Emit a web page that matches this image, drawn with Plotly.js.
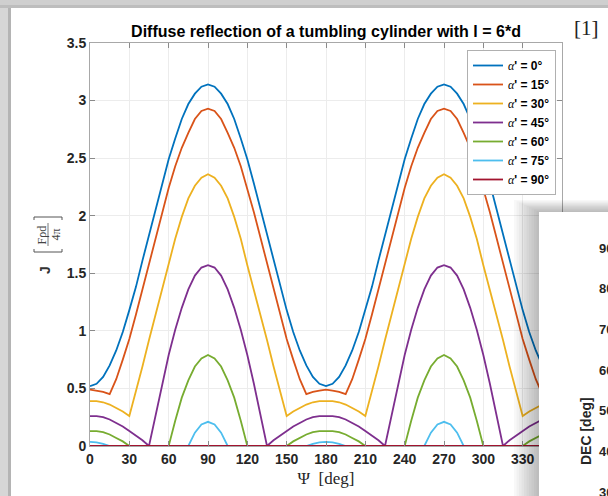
<!DOCTYPE html>
<html>
<head>
<meta charset="utf-8">
<script src="https://cdn.plot.ly/plotly-3.0.1.min.js"></script>
<style>
html,body{margin:0;padding:0;background:#ffffff;}
#chart{width:608px;height:496px;}
</style>
</head>
<body>
<div id="chart"></div>
<script>
// ---- data ----
const psi = [0,5,10,15,20,25,30,35,40,45,50,55,60,65,70,75,80,85,90,
  95,100,105,110,115,120,125,130,135,140,145,150,155,160,165,170,175,180,
  185,190,195,200,205,210,215,220,225,230,235,240,245,250,255,260,265,270,
  275,280,285,290,295,300,305,310,315,320,325,330,335,340,345,350,355,360];

const alpha0 = [0.52,0.54,0.60,0.70,0.83,0.99,1.18,1.38,1.61,1.83,2.06,2.28,2.49,2.67,2.84,2.97,3.06,3.12,3.14,
  3.12,3.06,2.97,2.84,2.67,2.49,2.28,2.06,1.83,1.61,1.38,1.18,0.99,0.83,0.70,0.60,0.54,0.52,
  0.54,0.60,0.70,0.83,0.99,1.18,1.38,1.61,1.83,2.06,2.28,2.49,2.67,2.84,2.97,3.06,3.12,3.14,
  3.12,3.06,2.97,2.84,2.67,2.49,2.28,2.06,1.83,1.61,1.38,1.18,0.99,0.83,0.70,0.60,0.54,0.52];

const alpha15 = [0.49,0.48,0.47,0.45,0.58,0.75,0.93,1.14,1.36,1.59,1.81,2.03,2.24,2.43,2.59,2.72,2.84,2.91,2.93,
  2.91,2.84,2.72,2.59,2.43,2.24,2.03,1.81,1.59,1.36,1.14,0.93,0.75,0.58,0.45,0.47,0.48,0.49,
  0.48,0.47,0.45,0.58,0.75,0.93,1.14,1.36,1.59,1.81,2.03,2.24,2.43,2.59,2.72,2.84,2.91,2.93,
  2.91,2.84,2.72,2.59,2.43,2.24,2.03,1.81,1.59,1.36,1.14,0.93,0.75,0.58,0.45,0.47,0.48,0.49];

const alpha30 = [0.39,0.39,0.38,0.36,0.33,0.30,0.26,0.47,0.69,0.92,1.14,1.36,1.57,1.80,1.99,2.15,2.26,2.33,2.36,
  2.33,2.26,2.15,1.99,1.80,1.57,1.36,1.14,0.92,0.69,0.47,0.26,0.30,0.33,0.36,0.38,0.39,0.39,
  0.39,0.38,0.36,0.33,0.30,0.26,0.47,0.69,0.92,1.14,1.36,1.57,1.80,1.99,2.15,2.26,2.33,2.36,
  2.33,2.26,2.15,1.99,1.80,1.57,1.36,1.14,0.92,0.69,0.47,0.26,0.30,0.33,0.36,0.38,0.39,0.39];

const alpha45 = [0.26,0.26,0.25,0.23,0.20,0.17,0.13,0.09,0.05,0,0.27,0.54,0.79,1.01,1.20,1.36,1.48,1.55,1.57,
  1.55,1.48,1.36,1.20,1.01,0.79,0.54,0.27,0,0.05,0.09,0.13,0.17,0.20,0.23,0.25,0.26,0.26,
  0.26,0.25,0.23,0.20,0.17,0.13,0.09,0.05,0,0.27,0.54,0.79,1.01,1.20,1.36,1.48,1.55,1.57,
  1.55,1.48,1.36,1.20,1.01,0.79,0.54,0.27,0,0.05,0.09,0.13,0.17,0.20,0.23,0.25,0.26,0.26];

const alpha60 = [0.13,0.13,0.12,0.10,0.07,0.04,0,0,0,0,0,0,0,0.22,0.42,0.57,0.69,0.76,0.79,
  0.76,0.69,0.57,0.42,0.22,0,0,0,0,0,0,0,0.04,0.07,0.10,0.12,0.13,0.13,
  0.13,0.12,0.10,0.07,0.04,0,0,0,0,0,0,0,0.22,0.42,0.57,0.69,0.76,0.79,
  0.76,0.69,0.57,0.42,0.22,0,0,0,0,0,0,0,0.04,0.07,0.10,0.12,0.13,0.13];

const alpha75 = [0.035,0.031,0.019,0,0,0,0,0,0,0,0,0,0,0,0,0,0.116,0.187,0.21,
  0.187,0.116,0,0,0,0,0,0,0,0,0,0,0,0,0,0.019,0.031,0.035,
  0.031,0.019,0,0,0,0,0,0,0,0,0,0,0,0,0,0.116,0.187,0.21,
  0.187,0.116,0,0,0,0,0,0,0,0,0,0,0,0,0,0.019,0.031,0.035];

const alpha90 = [0,0,0,0,0,0,0,0,0,0,0,0,0,0,0,0,0,0,0,
  0,0,0,0,0,0,0,0,0,0,0,0,0,0,0,0,0,0,
  0,0,0,0,0,0,0,0,0,0,0,0,0,0,0,0,0,0,
  0,0,0,0,0,0,0,0,0,0,0,0,0,0,0,0,0,0];

const seriesNames = ['0°','15°','30°','45°','60°','75°','90°'];
const seriesValues = [alpha0, alpha15, alpha30, alpha45, alpha60, alpha75, alpha90];
const xTickVals = [0,30,60,90,120,150,180,210,240,270,300,330,360];
const yTickVals = [0,0.5,1,1.5,2,2.5,3,3.5];
const yTickText = ['0','0.5','1','1.5','2','2.5','3','3.5'];
const decTickLabels = ['90','80','70','60','50','40','30'];

// ---- styles ----
const colors = ['#0072BD','#D95319','#EDB120','#7E2F8E','#77AC30','#4DBEEE','#A2142F'];
const SANS = 'Liberation Sans, Arial, sans-serif';
const SERIF = 'Liberation Serif, Times New Roman, serif';

const traces = seriesValues.map((vals, i) => ({
  type: 'scatter', mode: 'lines', x: psi, y: vals,
  name: '<span style="font-family:Liberation Serif;font-style:italic;font-weight:normal">α</span>\' = ' + seriesNames[i],
  line: {color: colors[i], width: 1.8}
}));

// pixel -> paper helpers (plot area 90..562 x 43..446)
const L = 90, R = 562, T = 43, B = 446;
const px = v => (v - L) / (R - L);
const py = v => (B - v) / (B - T);
function rect(x0, y0, x1, y1, color, opacity) {
  return {type: 'rect', xref: 'paper', yref: 'paper', layer: 'above',
    x0: px(x0), x1: px(x1), y0: py(y1), y1: py(y0),
    line: {width: 0}, fillcolor: color, opacity: opacity === undefined ? 1 : opacity};
}
function pathShape(points, color, width) {
  const d = points.map((p, i) => (i ? 'L' : 'M') + px(p[0]) + ',' + py(p[1])).join(' ');
  return {type: 'path', xref: 'paper', yref: 'paper', layer: 'above', path: d,
    line: {color: color, width: width}};
}
function label(text, x, y, font, extra) {
  return Object.assign({text: text, xref: 'paper', yref: 'paper', x: px(x), y: py(y),
    xanchor: 'center', yanchor: 'middle', showarrow: false, font: font}, extra || {});
}

const shapes = [];
// window chrome (left and top edges of the screenshot)
shapes.push(rect(0, 0, 11, 496, '#d6d6d6'));
shapes.push(rect(8, 0, 11, 496, '#b4b4b4'));
shapes.push(rect(0, 0, 608, 7, '#cfcfcf'));
shapes.push(rect(0, 5, 608, 8, '#bdbdbd'));
// shadow of overlapping window
for (let i = 0; i < 10; i++) {
  shapes.push(rect(514 + 2.5 * i, 200 + 1.2 * i, 620, 500, '#000000', 0.026));
}
// overlapping window
shapes.push(rect(539, 212, 620, 500, '#ffffff'));
// y-label bracket and fraction bar
shapes.push(pathShape([[34, 249], [34, 252], [62, 252], [62, 249]], '#555555', 1));
shapes.push(pathShape([[34, 220], [34, 217], [62, 217], [62, 220]], '#555555', 1));
shapes.push(pathShape([[48, 246], [48, 223]], '#555555', 0.8));

const annotations = [
  label('<b>J</b>', 45, 270, {family: SANS, size: 14, color: '#333333'}, {textangle: -90}),
  label('Fρd', 41.5, 235, {family: SERIF, size: 12, color: '#444444'}, {textangle: -90}),
  label('4π', 55.5, 235, {family: SERIF, size: 12, color: '#444444'}, {textangle: -90}),
  label('[1]', 586, 28, {family: SERIF, size: 21, color: '#222222'}),
  label('<b>DEC [deg]</b>', 586, 431, {family: SANS, size: 14, color: '#262626'}, {textangle: -90})
];
decTickLabels.forEach((t, i) => {
  annotations.push(label('<b>' + t + '</b>', 597, 248 + 40.7 * i,
    {family: SANS, size: 13, color: '#262626'}, {xanchor: 'left'}));
});

const layout = {
  width: 608, height: 496,
  margin: {l: L, r: 608 - R, t: T, b: 496 - B, pad: 0},
  paper_bgcolor: '#ffffff', plot_bgcolor: '#ffffff',
  title: {text: '<b>Diffuse reflection of a tumbling cylinder with l = 6*d</b>',
    font: {family: SANS, size: 16, color: '#000000'},
    x: px(326), xref: 'paper', xanchor: 'center', y: 1 - 31 / 496, yanchor: 'middle'},
  xaxis: {range: [0, 360], tickvals: xTickVals, ticks: 'inside', ticklen: 5, tickwidth: 1,
    tickcolor: '#8a8a8a', showline: true, linecolor: '#a8a8a8', linewidth: 1, mirror: 'ticks',
    showgrid: true, gridcolor: '#ececec', zeroline: false,
    tickfont: {family: SANS, size: 14, color: '#262626', weight: 'bold'},
    title: {text: 'Ψ&nbsp;&nbsp;[deg]', font: {family: SERIF, size: 17, color: '#262626'}, standoff: 6}},
  yaxis: {range: [0, 3.5], tickvals: yTickVals, ticktext: yTickText, ticks: 'inside', ticklen: 5, tickwidth: 1,
    tickcolor: '#8a8a8a', showline: true, linecolor: '#a8a8a8', linewidth: 1, mirror: 'ticks',
    showgrid: true, gridcolor: '#ececec', zeroline: false,
    tickfont: {family: SANS, size: 14, color: '#262626', weight: 'bold'}},
  legend: {x: px(556), y: py(50), xanchor: 'right', yanchor: 'top', xref: 'paper', yref: 'paper',
    bgcolor: '#ffffff', bordercolor: '#b0b0b0', borderwidth: 1, itemwidth: 30, tracegroupgap: 0,
    font: {family: SANS, size: 12, color: '#000000', weight: 'bold'}},
  showlegend: true,
  shapes: shapes,
  annotations: annotations
};

Plotly.newPlot('chart', traces, layout, {staticPlot: true, displayModeBar: false});
</script>
</body>
</html>
